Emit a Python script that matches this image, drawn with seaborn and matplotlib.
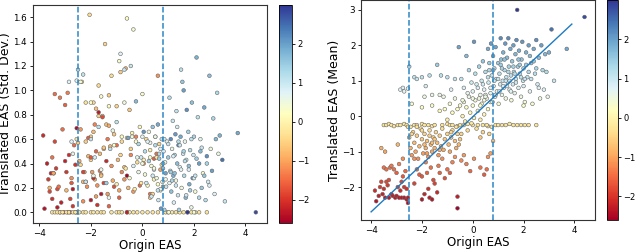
import numpy as np
import pandas as pd
import matplotlib
matplotlib.use("Agg")
import matplotlib.pyplot as plt
import seaborn as sns

# Donnees (Origin EAS, moyenne et ecart-type traduits)

# groupe rouge a gauche
origin_a = [-3.85, -3.8, -3.7, -3.65, -3.6, -3.55, -3.5, -3.5, -3.45, -3.4,
            -3.4, -3.35, -3.3, -3.3, -3.25, -3.2, -3.2, -3.15, -3.1, -3.05,
            -3.0, -3.0, -2.95, -2.9, -2.9, -2.85, -2.8, -2.8, -2.75, -2.7,
            -2.7, -2.65, -2.6, -2.6, -2.55, -2.55, -3.6, -3.45, -2.95, -2.75]
mean_a = [-2.1, -2.4, -2.25, -2.0, -1.85, -2.2, -1.45, -2.05, -2.3, -1.5,
          -1.85, -1.95, -1.8, -2.3, -1.45, -2.2, -1.4, -2.25, -1.5, -2.3,
          -1.6, -2.25, -2.0, -2.3, -1.35, -2.1, -2.3, -1.85, -1.7, -2.3,
          -2.0, -1.55, -2.35, -2.05, -2.3, -2.45, -0.9, -1.0, -0.8, -1.2]
std_a = [0.63, 0.03, 0.4, 0.27, 0.17, 0.32, 0.45, 0.11, 0.32, 0.97,
         0.58, 0.36, 0.19, 0.04, 0.21, 0.0, 0.94, 0.08, 0.68, 0.0,
         0.88, 0.42, 0.33, 0.0, 0.98, 0.47, 0.0, 0.11, 0.24, 0.19,
         0.05, 0.55, 0.0, 0.39, 0.0, 0.69, 0.2, 0.32, 0.18, 0.28]

# ligne horizontale a -0.25
origin_b = [-3.5, -3.4, -3.3, -3.2, -3.1, -2.95, -2.85, -2.7, -2.6, -2.45,
            -2.3, -2.2, -2.0, -1.9, -1.75, -1.6, -1.5, -1.2, -1.0, -0.9,
            -0.8, -0.6, -0.5, -0.35, -0.2, 0.0, 0.2, 0.4, 0.6, 0.9,
            1.0, 1.15, 1.3, 1.45, 1.6, 1.75, 1.9, 2.05, 2.2, 2.5]
mean_b = [-0.25, -0.25, -0.22, -0.25, -0.28, -0.25, -0.25, -0.22, -0.25, -0.3,
          -0.25, -0.25, -0.22, -0.25, -0.25, -0.28, -0.25, -0.25, -0.22, -0.25,
          -0.25, -0.28, -0.25, -0.25, -0.22, -0.25, -0.25, -0.25, -0.28, -0.25,
          -0.25, -0.25, -0.25, -0.22, -0.25, -0.25, -0.25, -0.25, -0.25, -0.25]
std_b = [0.0] * 40

# zone orange
origin_c = [-2.5, -2.45, -2.4, -2.35, -2.3, -2.25, -2.2, -2.15, -2.1, -2.05,
            -2.0, -1.95, -1.9, -1.85, -1.8, -1.75, -1.7, -1.65, -1.6, -1.55,
            -1.5, -1.45, -1.4, -1.35, -1.3, -1.25, -1.2, -1.15, -1.1, -1.0,
            -0.95, -0.9, -0.85, -0.8, -0.7, -0.65, -0.6, -0.55, -0.5, -2.55,
            -2.4, -2.2, -1.9, -1.7, -1.5, -1.3, -2.0, -1.8, -1.6, -2.3]
mean_c = [-0.6, -0.9, -1.1, -0.45, -0.75, -1.0, -0.55, -1.2, -0.85, -0.35,
          -0.65, -1.05, -0.5, -0.9, -0.7, -1.15, -0.4, -0.8, -1.0, -0.6,
          -0.9, -0.45, -0.75, -1.1, -0.55, -0.85, -0.35, -0.95, -0.65, -0.5,
          -0.8, -1.0, -0.6, -0.4, -0.7, -0.9, -0.5, -0.8, -0.65, -0.3,
          -0.5, -0.3, -0.8, -0.55, -0.65, -0.95, -0.4, -1.05, -0.75, -1.2]
std_c = [0.57, 0.42, 0.68, 1.07, 0.25, 0.33, 0.58, 0.21, 0.46, 1.62,
         0.62, 0.33, 0.9, 0.27, 0.85, 0.22, 1.04, 0.48, 0.31, 0.79,
         0.52, 1.38, 0.72, 0.15, 0.96, 0.54, 1.12, 0.26, 0.64, 0.87,
         0.43, 0.18, 1.15, 0.58, 0.37, 1.18, 0.61, 0.2, 0.84, 0.6,
         0.39, 0.9, 0.66, 0.79, 0.53, 0.71, 0.43, 0.13, 0.3, 0.09]

# zone rouge au milieu
origin_d = [-2.3, -2.2, -2.1, -2.0, -2.0, -1.9, -1.85, -1.8, -1.7, -1.65,
            -1.6, -1.55, -1.5, -1.4, -1.35, -1.3, -1.2, -1.1, -1.0, -0.9,
            -0.8, -0.7, -0.6, -0.6, -0.45, -0.35, -0.25, -0.1, 0.05, 0.3,
            0.45, 0.55, 0.6, 0.7, -1.75]
mean_d = [-1.9, -1.5, -1.65, -2.35, -1.7, -2.2, -1.3, -1.6, -2.3, -1.45,
          -2.35, -1.8, -1.9, -2.15, -1.4, -1.6, -1.2, -1.75, -1.5, -1.6,
          -1.3, -1.15, -2.6, -2.27, -1.25, -1.1, -1.35, -1.55, -1.2, -1.45,
          -1.65, -1.5, -1.15, -1.05, -2.05]
std_d = [0.33, 0.25, 0.61, 0.1, 0.45, 0.28, 0.72, 0.5, 0.82, 0.34,
         0.15, 0.78, 0.24, 0.42, 0.6, 0.05, 0.38, 0.21, 0.55, 0.12,
         0.33, 0.27, 0.3, 0.0, 0.47, 0.17, 0.62, 0.22, 0.4, 0.15,
         0.44, 0.48, 1.12, 0.35, 0.06]

# zone jaune
origin_e = [-1.1, -1.0, -0.9, -0.85, -0.8, -0.7, -0.65, -0.6, -0.5, -0.45,
            -0.4, -0.35, -0.3, -0.25, -0.2, -0.15, -0.1, -0.05, 0.0, 0.05,
            0.1, 0.15, 0.2, 0.25, 0.3, 0.35, 0.4, 0.45, 0.5, 0.55,
            0.6, 0.65, 0.7, 0.75, 0.8, -1.3, -1.6, -2.0, -2.4, 0.3]
mean_e = [0.2, -0.1, 0.35, -0.45, 0.1, 0.5, -0.3, 0.2, 0.3, -0.5,
          0.0, 0.4, -0.15, 0.25, -0.4, 0.55, 0.1, -0.2, 0.3, -0.05,
          0.45, -0.35, 0.15, 0.5, -0.1, 0.35, -0.45, 0.05, 0.6, -0.25,
          0.2, -0.5, 0.4, -0.3, -0.7, 0.15, 0.3, 0.25, 0.35, -0.6]
std_e = [0.55, 0.23, 1.24, 0.47, 0.62, 0.9, 0.36, 1.59, 0.28, 0.52,
         0.65, 1.5, 0.19, 0.58, 0.41, 0.33, 0.7, 0.24, 0.97, 0.43,
         0.31, 0.6, 0.22, 0.66, 0.51, 0.38, 0.15, 0.27, 0.62, 0.45,
         0.23, 0.56, 0.18, 0.39, 0.21, 0.87, 0.95, 0.9, 1.07, 0.12]

# bleu clair a gauche
origin_f = [-2.85, -2.75, -2.7, -2.55, -2.5, -2.3, -2.2, -2.0, -1.85, -1.7,
            -1.6, -1.4, -1.25, -1.15, -1.0, -0.85, -0.7, -0.55, -0.45, -0.35,
            -0.25, -0.15, -0.05, -1.9, -1.3]
mean_f = [0.75, 0.8, 0.7, 0.78, 1.4, 1.1, 1.05, 1.1, 0.85, 1.15,
          0.6, 1.45, 1.15, 0.55, 1.1, 0.75, 1.05, 1.95, 1.05, 0.8,
          1.7, 1.3, 0.95, 0.55, 0.6]
std_f = [1.07, 0.58, 0.48, 1.08, 1.17, 1.13, 0.25, 0.6, 0.45, 0.7,
         0.35, 0.24, 0.52, 0.67, 0.74, 1.3, 1.17, 0.61, 1.2, 0.38,
         0.91, 0.56, 0.45, 0.3, 0.12]

# nuage bleu
origin_g = [0.0, 0.1, 0.15, 0.05, 0.25, 0.3, 0.35, 0.4, 0.45, 0.5,
            0.55, 0.6, 0.62, 0.65, 0.7, 0.72, 0.75, 0.78, 0.8, 0.82,
            0.85, 0.88, 0.9, 0.92, 0.95, 1.0, 1.02, 1.05, 1.08, 1.1,
            1.12, 1.15, 1.18, 1.2, 1.22, 1.25, 1.28, 1.3, 1.32, 1.35,
            1.38, 1.4, 1.42, 1.45, 1.48, 1.5, 1.52, 1.55, 1.58, 1.6,
            1.62, 1.65, 1.68, 1.7, 1.72, 1.75, 1.78, 1.8, 1.82, 1.85,
            1.9, 1.92, 1.95, 1.98, 2.0, 2.05, 2.1, 2.15, 2.2, 2.25,
            2.3, 2.35, 2.4, 2.45, 2.5, 2.55, 2.6, 2.65, 2.7, 2.75,
            2.8, 2.85, 2.9, 2.95, 3.0, 3.1, 3.2, 3.7, 4.4, 2.0]
mean_g = [0.7, 1.2, 0.9, 2.1, 1.4, 0.6, 1.0, 1.55, 0.75, 1.25,
          0.5, 1.9, 0.95, 1.5, 0.65, 2.05, 1.15, 0.4, 1.7, 0.85,
          1.35, 0.55, 1.95, 1.05, 0.7, 1.5, 0.35, 1.2, 0.9, 2.2,
          1.6, 0.6, 1.0, 1.8, 0.8, 1.3, 2.05, 0.5, 1.1, 1.65,
          0.95, 2.2, 1.4, 0.75, 1.9, 1.15, 0.45, 1.55, 0.9, 2.0,
          1.25, 0.65, 1.75, 1.05, 2.15, 3.0, 1.4, 0.8, 1.85, 1.2,
          0.55, 1.6, 2.1, 1.0, 1.35, 0.4, 1.8, 1.1, 2.0, 0.7,
          1.5, 0.35, 1.9, 1.2, 2.15, 0.9, 1.65, 0.5, 2.0, 1.3,
          0.75, 1.75, 1.25, 0.55, 1.8, 2.45, 1.0, 1.9, 2.8, 0.3]
std_g = [0.62, 0.5, 0.24, 0.66, 0.42, 0.57, 0.13, 0.7, 0.35, 0.55,
         0.28, 0.72, 0.1, 0.44, 0.19, 0.03, 0.6, 0.25, 0.36, 0.5,
         0.02, 0.41, 0.32, 0.21, 0.58, 0.45, 0.0, 0.94, 0.34, 0.6,
         0.17, 0.52, 0.75, 0.3, 0.08, 0.47, 0.64, 0.26, 0.83, 0.4,
         0.14, 0.55, 0.02, 0.37, 0.62, 1.17, 0.2, 1.07, 0.48, 1.0,
         0.3, 0.58, 0.12, 0.43, 0.84, 0.0, 0.66, 0.35, 0.23, 0.51,
         0.04, 0.9, 0.28, 0.47, 0.62, 0.17, 1.27, 0.78, 0.4, 0.6,
         0.2, 0.32, 0.86, 0.1, 0.46, 0.25, 1.12, 0.52, 0.34, 0.77,
         0.15, 0.6, 0.98, 0.48, 0.63, 0.43, 0.09, 0.65, 0.0, 0.0]

# coeur du nuage bleu
origin_h = [0.3, 0.4, 0.5, 0.6, 0.7, 0.8, 0.9, 1.0, 1.1, 1.2,
            1.3, 1.4, 1.5, 1.6, 1.7, 1.8, 1.9, 2.0, 2.1, 2.2,
            2.3, 2.4, 2.5, 2.6, 0.45, 0.65, 0.85, 1.05, 1.25, 1.45,
            1.65, 1.85, 2.05, 2.25, 0.2, 0.0, -0.2, -0.4, 1.15, 1.35]
mean_h = [0.3, 0.9, 0.55, 1.1, 0.8, 1.3, 0.6, 1.05, 1.45, 0.85,
          1.0, 1.25, 0.7, 1.4, 0.95, 1.6, 1.1, 0.85, 1.45, 1.25,
          1.05, 1.55, 1.35, 0.8, 0.45, 1.3, 1.0, 0.7, 1.6, 1.0,
          1.2, 1.45, 1.05, 1.7, 0.8, 0.5, 0.65, 0.45, 1.35, 0.85]
std_h = [0.45, 0.3, 0.62, 0.18, 0.52, 0.4, 0.27, 0.56, 0.33, 0.46,
         0.22, 0.58, 0.35, 0.5, 0.14, 0.38, 0.6, 0.28, 0.44, 0.12,
         0.53, 0.3, 0.4, 0.22, 0.36, 0.48, 0.6, 0.24, 0.32, 0.55,
         0.42, 0.18, 0.3, 0.5, 0.58, 0.4, 0.45, 0.62, 0.26, 0.7]

# droite de regression (extremites lues)
fit_x = [-4.0, 3.9]
fit_y = [-2.7, 2.6]

seuils = [-2.5, 0.8]

df = pd.DataFrame({
    "origin": origin_a + origin_b + origin_c + origin_d + origin_e + origin_f + origin_g + origin_h,
    "mean": mean_a + mean_b + mean_c + mean_d + mean_e + mean_f + mean_g + mean_h,
    "std": std_a + std_b + std_c + std_d + std_e + std_f + std_g + std_h,
})

vmin, vmax = df["mean"].min(), df["mean"].max()
norm = plt.Normalize(vmin, vmax)
cmap = plt.get_cmap("RdYlBu")

fig = plt.figure(figsize=(6.4, 2.52), dpi=100)
ax1 = fig.add_axes([0.051, 0.115, 0.366, 0.865])
cax1 = fig.add_axes([0.436, 0.115, 0.021, 0.865])
ax2 = fig.add_axes([0.564, 0.127, 0.366, 0.873])
cax2 = fig.add_axes([0.948, 0.127, 0.018, 0.873])

for ax, col, lab in [(ax1, "std", "Translated EAS (Std. Dev.)"),
                     (ax2, "mean", "Translated EAS (Mean)")]:
    sns.scatterplot(data=df, x="origin", y=col, hue="mean", palette=cmap,
                    hue_norm=norm, legend=False, s=7, edgecolor="#666666",
                    linewidth=0.4, ax=ax)
    for s in seuils:
        ax.axvline(s, color="#2b86c5", linestyle="--", linewidth=1.1)
    ax.set_xlabel("Origin EAS", fontsize=8.5, labelpad=1)
    ax.set_ylabel(lab, fontsize=9, labelpad=1)
    ax.tick_params(labelsize=6.3, length=2.5, width=0.6, pad=1.5)
    ax.set_xticks([-4, -2, 0, 2, 4])
    for sp in ax.spines.values():
        sp.set_color("#333333")

sns.lineplot(x=fit_x, y=fit_y, color="#1f7bc0", linewidth=1.0, ax=ax2)

ax1.set_xlim(-4.26, 4.83)
ax1.set_ylim(-0.088, 1.70)
ax1.set_yticks([0.0, 0.2, 0.4, 0.6, 0.8, 1.0, 1.2, 1.4, 1.6])
ax2.set_xlim(-4.4, 4.82)
ax2.set_ylim(-2.93, 3.28)
ax2.set_yticks([-2, -1, 0, 1, 2, 3])

sm = plt.cm.ScalarMappable(norm=norm, cmap=cmap)
for cax in [cax1, cax2]:
    cb = fig.colorbar(sm, cax=cax, ticks=[-2, -1, 0, 1, 2])
    cb.ax.tick_params(labelsize=6.0, length=2.5, width=0.6, pad=1.0)
    cb.outline.set_linewidth(0.6)

fig.savefig("out.png", dpi=100)
